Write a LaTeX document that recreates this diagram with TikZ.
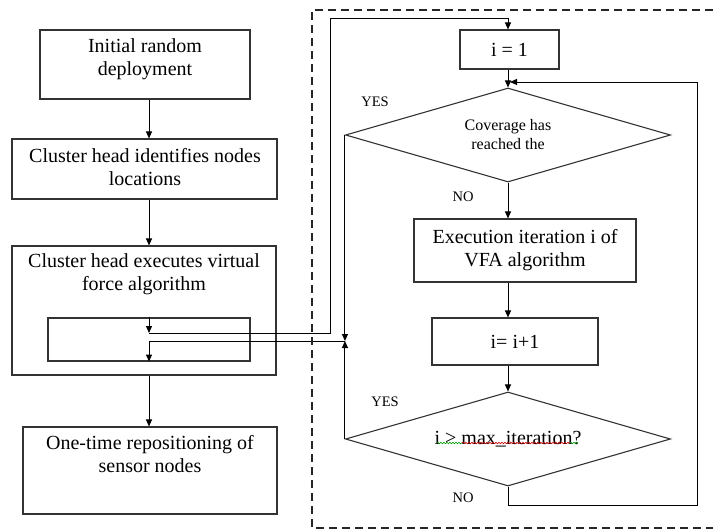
\documentclass[tikz,border=0pt]{standalone}
\usepackage{fontspec}
\setmainfont{Liberation Serif}
\usetikzlibrary{shapes.geometric,arrows.meta,decorations.pathmorphing}
\begin{document}
\begin{tikzpicture}[x=1pt,y=-1pt,
  box/.style={draw=black!80, line width=1.1pt, rectangle, inner sep=0pt},
  dia/.style={draw=black!80, line width=1.1pt, diamond, aspect=3.46, inner sep=0pt, minimum width=325pt, minimum height=94pt, font=\fontsize{16}{19}\selectfont, align=center},
  txt/.style={align=center, font=\fontsize{20}{23}\selectfont, inner sep=0pt},
  lbl/.style={font=\fontsize{14.5}{16}\selectfont, inner sep=0pt},
  arr/.style={draw=black, line width=1pt, -{Triangle[length=7pt,width=6pt]}},
  frame/.style={draw=black!85, line width=2pt, dash pattern=on 8pt off 5pt},
  squig/.style={decorate, decoration={snake, segment length=3pt, amplitude=0.8pt}, line width=0.6pt}
]
\useasboundingbox (0,0) rectangle (713,530);

% left column
\node[box, minimum width=210pt, minimum height=69pt] (b1) at (145,64.5) {};
\node[txt] (t1) at (145,59) {Initial random\\deployment};
\node[box, minimum width=265pt, minimum height=60pt] (b2) at (144.5,169) {};
\node[txt] (t2) at (145,167) {Cluster head identifies nodes\\locations};
\node[box, minimum width=264pt, minimum height=129pt] (b3) at (144,310.5) {};
\node[txt] (t3) at (144,274) {Cluster head executes virtual\\force algorithm};
\node[box, minimum width=202pt, minimum height=43pt] (ib) at (149,339.5) {};
\node[box, minimum width=254pt, minimum height=87pt] (b4) at (150,470.5) {};
\node[txt] (t4) at (150,454) {One-time repositioning of\\sensor nodes};

% right column
\node[box, txt, minimum width=99pt, minimum height=39pt] (i1) at (509.5,49.5) {i = 1};
\node[dia] (d1) at (508,135) {Coverage has\\reached the};
\node[box, txt, minimum width=222pt, minimum height=63pt] (ex) at (525,250.5) {Execution iteration i of\\VFA algorithm};
\node[box, txt, minimum width=166pt, minimum height=47pt] (inc) at (515,341.5) {i= i+1};
\node[dia, font=\fontsize{20}{23}\selectfont] (d2) at (508,439) {i > max\_iteration?};

% labels
\node[lbl] (y1) at (375,102) {YES};
\node[lbl] (n1) at (463,197) {NO};
\node[lbl] (y2) at (385,402) {YES};
\node[lbl] (n2) at (463,498) {NO};

% helper coordinates
\coordinate (ax) at (149,0);
\coordinate (p1) at (149,333);
\coordinate (q1) at (330,18);
\coordinate (j) at (345,341);
\coordinate (r1) at (697,505);
\coordinate (m) at (510,82);

% connectors
\draw[arr] (b1.south -| ax) -- (b2.north -| ax);
\draw[arr] (b2.south -| ax) -- (b3.north -| ax);
\draw[arr] (b3.south -| ax) -- (b4.north -| ax);
\draw[arr] (ib.north) -- (p1);
\draw[arr] (p1) -| (q1) -| (d1.north |- i1.north);
\draw[arr] (j) -| (ib.south);
\draw[arr] (d1.west) -- (d1.west |- j);
\draw[arr] (d2.west) -- (d2.west |- j);
\draw[arr] (i1.south -| d1.north) -- (d1.north);
\draw[arr] (d1.south) -- (d1.south |- ex.north);
\draw[arr] (ex.south -| d1.south) -- (d1.south |- inc.north);
\draw[arr] (inc.south -| d2.north) -- (d2.north);
\draw[arr] (d2.south) |- (r1) |- (m);

% dashed frame
\draw[frame] (713,10) -- (312,10) -- (312,528) -- (713,528);

% spell-check underlines
\draw[squig, green!60!black] (437,443) -- (462,443);
\draw[squig, red!80!black] (462,443) -- (570,443);
\draw[squig, green!60!black] (570,443) -- (578,443);
\end{tikzpicture}
\end{document}
